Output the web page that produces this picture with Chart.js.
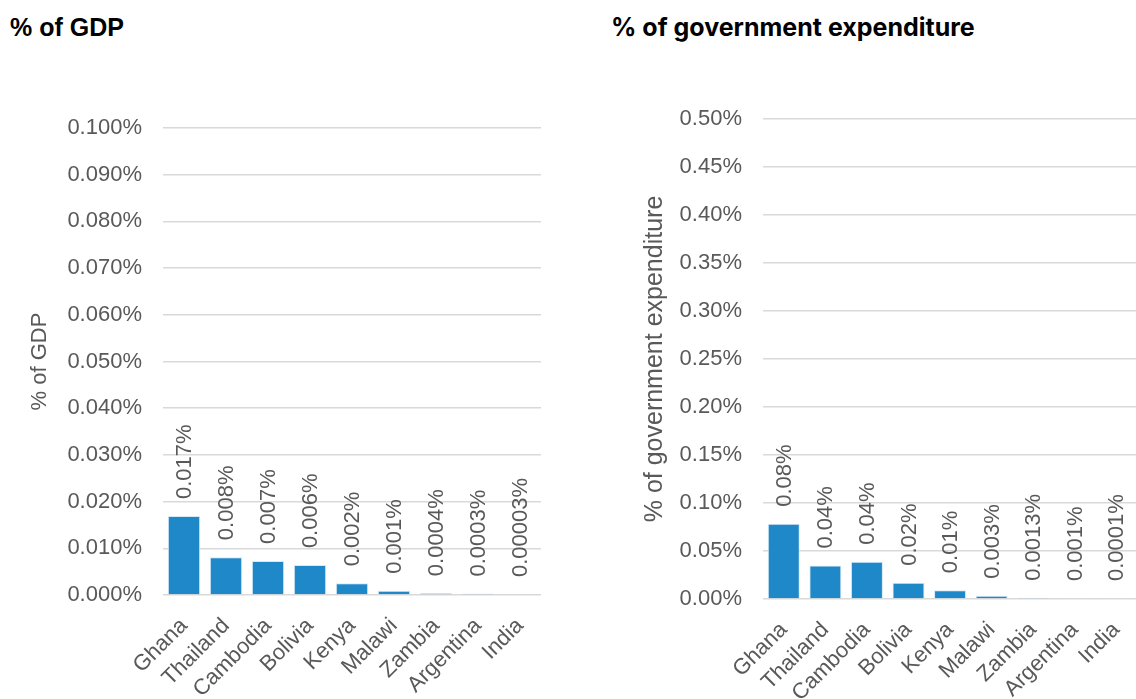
<!DOCTYPE html>
<html>
<head>
<meta charset="utf-8">
<script src="https://cdn.jsdelivr.net/npm/chart.js@4"></script>
<style>
    html, body { margin: 0; padding: 0; background: #fff; overflow: hidden; width: 1136px; height: 699px; }
    .title { position: absolute; font-weight: bold; color: #000; white-space: nowrap; }
    #t1 { left: 10px; top: 13px; font-family: "Liberation Sans", Arial, sans-serif; font-size: 25px; }
    #t2 { left: 611px; top: 12px; font-family: Inter, "Liberation Sans", sans-serif; font-size: 25px; }
    .box { position: absolute; top: 0; height: 699px; }
</style>
</head>
<body>
<div class="title" id="t1">% of GDP</div>
<div class="title" id="t2">% of government expenditure</div>
<div class="box" style="left:0;width:560px"><canvas id="gdpChart"></canvas></div>
<div class="box" style="left:600px;width:545px"><canvas id="govChart"></canvas></div>
<script>
const countries = ['Ghana', 'Thailand', 'Cambodia', 'Bolivia', 'Kenya', 'Malawi', 'Zambia', 'Argentina', 'India'];

// values in percent
const gdpValues = [0.0169, 0.0081, 0.0073, 0.0064, 0.0025, 0.0009, 0.0004, 0.0003, 0.00003];
const gdpLabels = ['0.017%', '0.008%', '0.007%', '0.006%', '0.002%', '0.001%', '0.0004%', '0.0003%', '0.00003%'];

const govValues = [0.0783, 0.0349, 0.0388, 0.0169, 0.0092, 0.0033, 0.0013, 0.001, 0.0001];
const govLabels = ['0.08%', '0.04%', '0.04%', '0.02%', '0.01%', '0.003%', '0.0013%', '0.001%', '0.0001%'];

const FONT = '"Liberation Sans", Arial, sans-serif';
const GREY = '#595959';
const BAR = '#1f88c8';

const barLabels = {
    id: 'barLabels',
    afterDatasetsDraw(chart, args, opts) {
        const ctx = chart.ctx;
        const meta = chart.getDatasetMeta(0);
        ctx.save();
        ctx.font = '22px ' + FONT;
        ctx.fillStyle = GREY;
        ctx.textAlign = 'left';
        ctx.textBaseline = 'middle';
        meta.data.forEach((bar, i) => {
            ctx.save();
            ctx.translate(bar.x + 1, bar.y - 17);
            ctx.rotate(-Math.PI / 2);
            ctx.fillText(opts.texts[i], 0, 0);
            ctx.restore();
        });
        ctx.restore();
    }
};

function makeChart(id, values, texts, cfg) {
    return new Chart(document.getElementById(id), {
        type: 'bar',
        data: {
            labels: countries,
            datasets: [{
                data: values,
                backgroundColor: BAR,
                borderColor: '#d8e9f5',
                borderWidth: 1,
                minBarLength: 1,
                barPercentage: 0.77,
                categoryPercentage: 1
            }]
        },
        options: {
            responsive: true,
            maintainAspectRatio: false,
            animation: false,
            layout: { padding: { top: cfg.top, left: 0, right: cfg.right, bottom: 0 } },
            plugins: {
                legend: { display: false },
                tooltip: { enabled: false },
                barLabels: { texts: texts }
            },
            scales: {
                x: {
                    grid: { display: false },
                    border: { display: false },
                    ticks: {
                        color: GREY,
                        font: { family: FONT, size: 22 },
                        minRotation: 45,
                        maxRotation: 45,
                        autoSkip: false,
                        padding: 10
                    },
                    afterFit: s => { s.height = cfg.xHeight; }
                },
                y: {
                    min: 0,
                    max: cfg.max,
                    grid: { color: '#d9d9d9', lineWidth: 1.5, drawTicks: false },
                    border: { display: false },
                    ticks: {
                        stepSize: cfg.step,
                        color: GREY,
                        font: { family: FONT, size: 22 },
                        padding: 21,
                        callback: v => v.toFixed(cfg.digits) + '%'
                    },
                    title: {
                        display: true,
                        text: cfg.yTitle,
                        color: GREY,
                        font: { family: FONT, size: cfg.titleSize },
                        padding: { top: cfg.titlePad, bottom: 0 }
                    },
                    afterFit: s => { s.width = cfg.yWidth; }
                }
            }
        },
        plugins: [barLabels]
    });
}

makeChart('gdpChart', gdpValues, gdpLabels, {
    top: 128, right: 19, xHeight: 104, max: 0.1, step: 0.01, digits: 3,
    yTitle: '% of GDP', titleSize: 22, titlePad: 27, yWidth: 163
});

makeChart('govChart', govValues, govLabels, {
    top: 119, right: 0, xHeight: 100, max: 0.5, step: 0.05, digits: 2,
    yTitle: '% of government expenditure', titleSize: 25, titlePad: 40, yWidth: 163
});
</script>
</body>
</html>
